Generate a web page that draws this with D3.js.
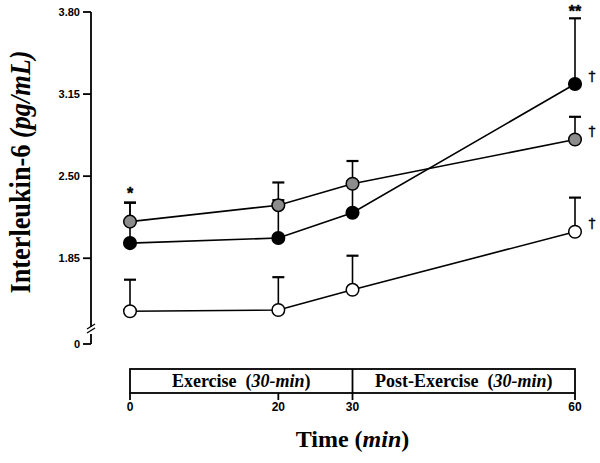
<!DOCTYPE html>
<html><head><meta charset="utf-8">
<script src="https://cdn.jsdelivr.net/npm/d3@7"></script>
<style>body{margin:0;background:#fff}svg{display:block}</style>
</head><body>
<svg id="c" width="600" height="463"></svg>
<script>
const times = [0, 20, 30, 60];
const blackVals = [1.97, 2.01, 2.21, 3.23];
const blackErr  = [0.32, 0.30, 0.25, 0.52];
const grayVals  = [2.14, 2.27, 2.44, 2.79];
const grayErr   = [0.15, 0.18, 0.18, 0.18];
const whiteVals = [1.43, 1.44, 1.60, 2.06];
const whiteErr  = [0.25, 0.26, 0.27, 0.27];
const yTicks = [0, 1.85, 2.50, 3.15, 3.80];
const xTicks = [0, 20, 30, 60];
const phases = [{label:"Exercise", dur:"30-min", from:0, to:30},
                {label:"Post-Exercise", dur:"30-min", from:30, to:60}];

const svg = d3.select("#c");
const x = d3.scaleLinear().domain([0, 60]).range([130, 575]);
const y = d3.scaleLinear().domain([0, 1.25, 3.80]).range([344, 334, 12]);
const axX = 91;

// y axis
const ax = svg.append("g").attr("stroke", "#000").attr("stroke-width", 1.8).attr("fill", "none");
ax.append("line").attr("x1", axX).attr("x2", axX).attr("y1", y(3.80)).attr("y2", 327);
ax.append("line").attr("x1", axX).attr("x2", axX).attr("y1", 334).attr("y2", y(0));
ax.append("line").attr("x1", axX-4).attr("x2", axX+4).attr("y1", 329).attr("y2", 324).attr("stroke-width", 1.3);
ax.append("line").attr("x1", axX-4).attr("x2", axX+4).attr("y1", 333).attr("y2", 328).attr("stroke-width", 1.3);
yTicks.forEach(t => {
  ax.append("line").attr("x1", axX-8).attr("x2", axX).attr("y1", y(t)).attr("y2", y(t));
  svg.append("text").attr("x", axX-11).attr("y", y(t)).attr("dy", "0.35em")
    .attr("text-anchor", "end").attr("font-family", "Liberation Sans, Arial, sans-serif")
    .attr("font-weight", "bold").attr("font-size", 11).text(t === 0 ? "0" : t.toFixed(2));
});

// y title
const yt = svg.append("text").attr("transform", "translate(30,172) rotate(-90)")
  .attr("text-anchor", "middle").attr("font-family", "Liberation Serif, Times New Roman, serif")
  .attr("font-weight", "bold").attr("font-size", 29)
  .attr("textLength", 243).attr("lengthAdjust", "spacingAndGlyphs");
yt.append("tspan").text("Interleukin-6 ");
yt.append("tspan").attr("font-style", "italic").text("(pg/mL)");

// series
const series = [
  {vals: grayVals, err: grayErr, fill: "#8c8c8c"},
  {vals: blackVals, err: blackErr, fill: "#000"},
  {vals: whiteVals, err: whiteErr, fill: "#fff"}
];
const line = d3.line().x((d, i) => x(times[i])).y(d => y(d));
series.forEach(s => {
  const g = svg.append("g");
  s.vals.forEach((v, i) => {
    const top = y(v + s.err[i]);
    g.append("line").attr("x1", x(times[i])).attr("x2", x(times[i])).attr("y1", y(v)).attr("y2", top)
      .attr("stroke", "#000").attr("stroke-width", 1.6);
    g.append("line").attr("x1", x(times[i])-6).attr("x2", x(times[i])+6).attr("y1", top).attr("y2", top)
      .attr("stroke", "#000").attr("stroke-width", 2.2);
  });
});
series.forEach(s => {
  svg.append("path").datum(s.vals).attr("d", line).attr("fill", "none")
    .attr("stroke", "#000").attr("stroke-width", 1.6);
});
series.forEach(s => {
  svg.append("g").selectAll("circle").data(s.vals).join("circle")
    .attr("cx", (d, i) => x(times[i])).attr("cy", d => y(d)).attr("r", 6.3)
    .attr("fill", s.fill).attr("stroke", "#000").attr("stroke-width", 1.5);
});

// annotations
const sym = (tx, ty, txt, size, fam, weight, sw) => svg.append("text").attr("x", tx).attr("y", ty)
  .attr("text-anchor", "middle").attr("font-family", fam || "Liberation Sans, Arial, sans-serif")
  .attr("fill", "#000").attr("stroke", "#000").attr("stroke-width", sw)
  .attr("font-weight", weight).attr("font-size", size).text(txt);
sym(x(0), y(blackVals[0] + blackErr[0]) - 4, "*", 16, null, "bold", 0.4);
sym(x(60), y(blackVals[3] + blackErr[3]) - 1, "**", 16, null, "bold", 0.4);
const dag = "DejaVu Sans, sans-serif";
sym(x(60) + 17, y(blackVals[3]) - 3, "\u2020", 14, dag, "normal", 0.3);
sym(x(60) + 17, y(grayVals[3]) - 4, "\u2020", 14, dag, "normal", 0.3);
sym(x(60) + 17, y(whiteVals[3]) - 4, "\u2020", 14, dag, "normal", 0.3);

// timeline box
const boxTop = 369, boxBot = 393;
const tb = svg.append("g").attr("stroke", "#000").attr("stroke-width", 1.8).attr("fill", "none");
tb.append("rect").attr("x", x(0)).attr("y", boxTop).attr("width", x(60)-x(0)).attr("height", boxBot-boxTop);
tb.append("line").attr("x1", x(30)).attr("x2", x(30)).attr("y1", boxTop).attr("y2", boxBot);
xTicks.forEach(t => {
  tb.append("line").attr("x1", x(t)).attr("x2", x(t)).attr("y1", boxBot).attr("y2", boxBot+7);
  svg.append("text").attr("x", x(t)).attr("y", 411).attr("text-anchor", "middle")
    .attr("font-family", "Liberation Sans, Arial, sans-serif").attr("font-weight", "bold")
    .attr("font-size", 12).text(t);
});
phases.forEach(p => {
  const t = svg.append("text").attr("x", (x(p.from)+x(p.to))/2).attr("y", boxBot-6)
    .attr("text-anchor", "middle").attr("font-family", "Liberation Serif, Times New Roman, serif")
    .attr("font-weight", "bold").attr("font-size", 18).attr("xml:space", "preserve");
  t.append("tspan").text(p.label + "  (");
  t.append("tspan").attr("font-style", "italic").text(p.dur);
  t.append("tspan").text(")");
});

// x title
const xt = svg.append("text").attr("x", x(30)).attr("y", 447).attr("text-anchor", "middle")
  .attr("font-family", "Liberation Serif, Times New Roman, serif").attr("font-weight", "bold").attr("font-size", 24);
xt.append("tspan").text("Time (");
xt.append("tspan").attr("font-style", "italic").text("min");
xt.append("tspan").text(")");
</script>
</body></html>
